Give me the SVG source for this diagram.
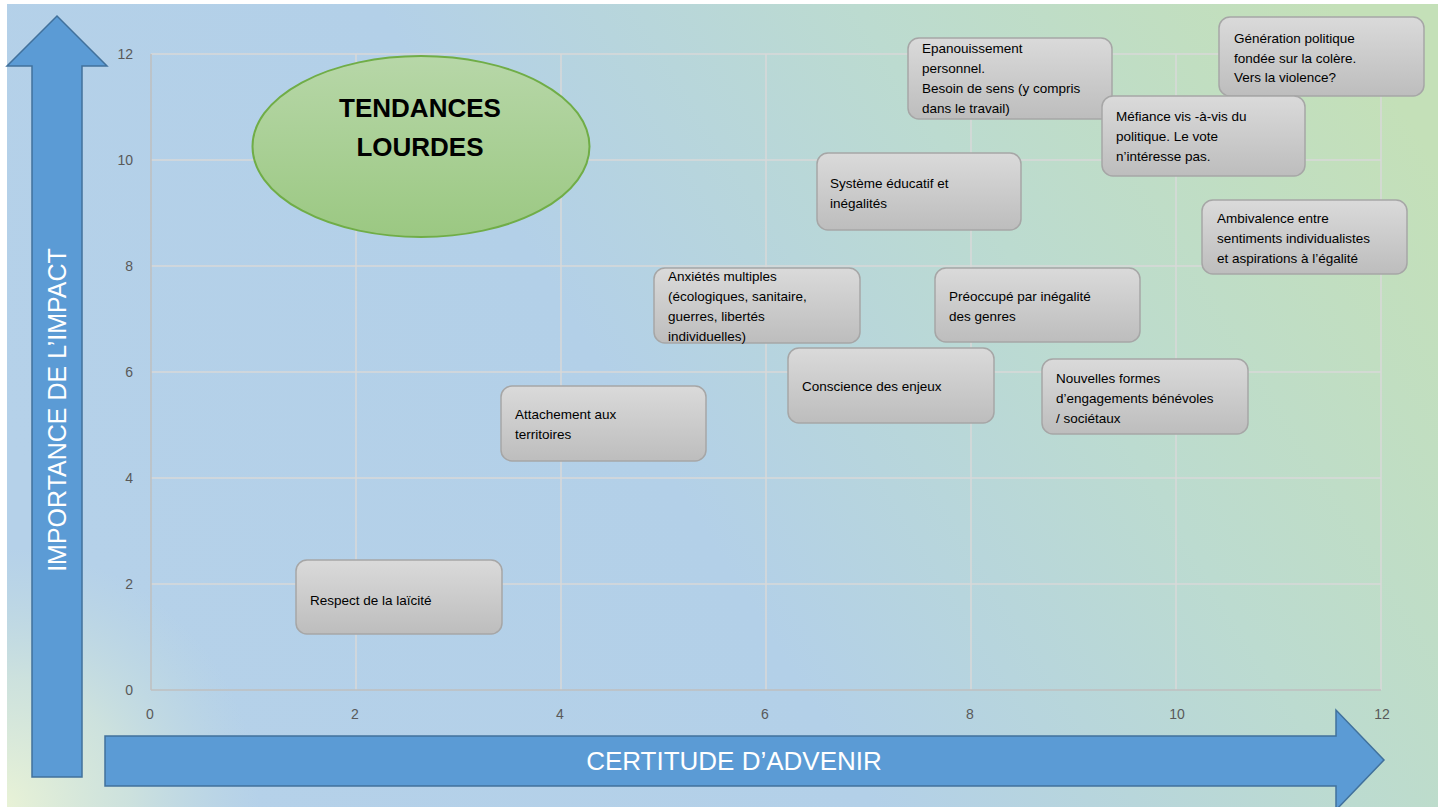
<svg xmlns="http://www.w3.org/2000/svg" width="1446" height="807" viewBox="0 0 1446 807">
<defs>
<linearGradient id="bg" x1="0" y1="0.55" x2="1" y2="0.2">
<stop offset="0" stop-color="#b5d1e9"/>
<stop offset="0.4" stop-color="#b3d0e8"/>
<stop offset="0.7" stop-color="#bcdbd0"/>
<stop offset="1" stop-color="#c4e0b8"/>
</linearGradient>
<radialGradient id="corner" cx="0" cy="807" r="260" gradientUnits="userSpaceOnUse">
<stop offset="0" stop-color="#eaf3d6" stop-opacity="1"/>
<stop offset="0.5" stop-color="#dcecd6" stop-opacity="0.6"/>
<stop offset="1" stop-color="#c8e0dc" stop-opacity="0"/>
</radialGradient>
<linearGradient id="box" x1="0" y1="0" x2="0" y2="1">
<stop offset="0" stop-color="#dadada"/>
<stop offset="1" stop-color="#bdbdbd"/>
</linearGradient>
<linearGradient id="ell" x1="0" y1="0" x2="0" y2="1">
<stop offset="0" stop-color="#b7d7a8"/>
<stop offset="1" stop-color="#9bc882"/>
</linearGradient>
<style>
.grid{stroke:#d9d9d9;stroke-width:1.5;fill:none}
.axis{stroke:#bfbfbf;stroke-width:1.5;fill:none}
.tick{font-family:"Liberation Sans",Arial,sans-serif;font-size:14px;fill:#595959}
.bx{fill:url(#box);stroke:#a6a6a6;stroke-width:1.5}
.t{font-family:"Liberation Sans",Arial,sans-serif;font-size:13.5px;fill:#000}
.arrow{fill:#5b9bd5;stroke:#41719c;stroke-width:1.5}
.at{font-family:"Liberation Sans",Arial,sans-serif;font-size:26px;fill:#fff}
</style>
</defs>
<rect x="7" y="4" width="1431" height="803" fill="url(#bg)"/>
<rect x="7" y="4" width="1431" height="803" fill="url(#corner)"/>

<g id="grid">
<line class="grid" x1="151" y1="54" x2="1381" y2="54"/>
<line class="grid" x1="151" y1="160" x2="1381" y2="160"/>
<line class="grid" x1="151" y1="266" x2="1381" y2="266"/>
<line class="grid" x1="151" y1="372" x2="1381" y2="372"/>
<line class="grid" x1="151" y1="478" x2="1381" y2="478"/>
<line class="grid" x1="151" y1="584" x2="1381" y2="584"/>
<line class="grid" x1="356" y1="54" x2="356" y2="690"/>
<line class="grid" x1="561" y1="54" x2="561" y2="690"/>
<line class="grid" x1="766" y1="54" x2="766" y2="690"/>
<line class="grid" x1="971" y1="54" x2="971" y2="690"/>
<line class="grid" x1="1176" y1="54" x2="1176" y2="690"/>
<line class="grid" x1="1381" y1="54" x2="1381" y2="690"/>
<line class="axis" x1="151" y1="54" x2="151" y2="690"/>
<line class="axis" x1="151" y1="690" x2="1381" y2="690"/>
<text class="tick" x="133" y="59" text-anchor="end">12</text>
<text class="tick" x="133" y="165" text-anchor="end">10</text>
<text class="tick" x="133" y="271" text-anchor="end">8</text>
<text class="tick" x="133" y="377" text-anchor="end">6</text>
<text class="tick" x="133" y="483" text-anchor="end">4</text>
<text class="tick" x="133" y="589" text-anchor="end">2</text>
<text class="tick" x="133" y="695" text-anchor="end">0</text>
<text class="tick" x="150" y="719" text-anchor="middle">0</text>
<text class="tick" x="355" y="719" text-anchor="middle">2</text>
<text class="tick" x="560" y="719" text-anchor="middle">4</text>
<text class="tick" x="765" y="719" text-anchor="middle">6</text>
<text class="tick" x="970" y="719" text-anchor="middle">8</text>
<text class="tick" x="1177" y="719" text-anchor="middle">10</text>
<text class="tick" x="1382" y="719" text-anchor="middle">12</text>
</g>

<g id="connectors">
<g id="y-arrow">
<polygon class="arrow" points="32,777 32,66 7,66 57,16 107,66 82,66 82,777"/>
<text class="at" x="0" y="0" text-anchor="middle" font-size="25" style="font-size:25px" transform="translate(66,410) rotate(-90)">IMPORTANCE DE L’IMPACT</text>
</g>
<g id="x-arrow">
<polygon class="arrow" points="105,736 1336,736 1336,710 1384,760 1336,810 1336,786 105,786"/>
<text class="at" x="734" y="770" text-anchor="middle">CERTITUDE D’ADVENIR</text>
</g>
</g>

<g id="tendances">
<ellipse cx="421" cy="146.5" rx="168.5" ry="90.5" fill="url(#ell)" stroke="#70ad47" stroke-width="2"/>
<text x="420" y="117" text-anchor="middle" font-family="'Liberation Sans',Arial,sans-serif" font-size="26" font-weight="bold" fill="#000">TENDANCES</text>
<text x="420" y="156" text-anchor="middle" font-family="'Liberation Sans',Arial,sans-serif" font-size="26" font-weight="bold" fill="#000">LOURDES</text>
</g>

<g id="n-laicite">
<rect class="bx" x="296" y="560" width="206" height="74" rx="11"/>
<text class="t" x="310" y="605">Respect de la laïcité</text>
</g>
<g id="n-territoires">
<rect class="bx" x="501" y="386" width="205" height="75" rx="11"/>
<text class="t" x="515" y="419">Attachement aux</text>
<text class="t" x="515" y="439">territoires</text>
</g>
<g id="n-anxietes">
<rect class="bx" x="654" y="268" width="206" height="75" rx="11"/>
<text class="t" x="668" y="281">Anxiétés multiples</text>
<text class="t" x="668" y="301">(écologiques, sanitaire,</text>
<text class="t" x="668" y="321">guerres, libertés</text>
<text class="t" x="668" y="341">individuelles)</text>
</g>
<g id="n-conscience">
<rect class="bx" x="788" y="348" width="206" height="75" rx="11"/>
<text class="t" x="802" y="391">Conscience des enjeux</text>
</g>
<g id="n-educatif">
<rect class="bx" x="817" y="153" width="204" height="77" rx="11"/>
<text class="t" x="830" y="188">Système éducatif et</text>
<text class="t" x="830" y="208">inégalités</text>
</g>
<g id="n-genres">
<rect class="bx" x="935" y="268" width="205" height="74" rx="11"/>
<text class="t" x="949" y="301">Préoccupé par inégalité</text>
<text class="t" x="949" y="321">des genres</text>
</g>
<g id="n-engagements">
<rect class="bx" x="1042" y="359" width="206" height="75" rx="11"/>
<text class="t" x="1056" y="383">Nouvelles formes</text>
<text class="t" x="1056" y="403">d’engagements bénévoles</text>
<text class="t" x="1056" y="423">/ sociétaux</text>
</g>
<g id="n-epanouissement">
<rect class="bx" x="908" y="38" width="204" height="81" rx="11"/>
<text class="t" x="922" y="53">Epanouissement</text>
<text class="t" x="922" y="73">personnel.</text>
<text class="t" x="922" y="93">Besoin de sens (y compris</text>
<text class="t" x="922" y="113">dans le travail)</text>
</g>
<g id="n-generation">
<rect class="bx" x="1219" y="17" width="205" height="79" rx="11"/>
<text class="t" x="1234" y="43">Génération politique</text>
<text class="t" x="1234" y="63">fondée sur la colère.</text>
<text class="t" x="1234" y="82">Vers la violence?</text>
</g>
<g id="n-mefiance">
<rect class="bx" x="1102" y="96" width="203" height="80" rx="11"/>
<text class="t" x="1116" y="121">Méfiance vis -à-vis du</text>
<text class="t" x="1116" y="141">politique. Le vote</text>
<text class="t" x="1116" y="161">n’intéresse pas.</text>
</g>
<g id="n-ambivalence">
<rect class="bx" x="1202" y="200" width="205" height="74" rx="11"/>
<text class="t" x="1217" y="223">Ambivalence entre</text>
<text class="t" x="1217" y="243">sentiments individualistes</text>
<text class="t" x="1217" y="263">et aspirations à l’égalité</text>
</g>
</svg>
